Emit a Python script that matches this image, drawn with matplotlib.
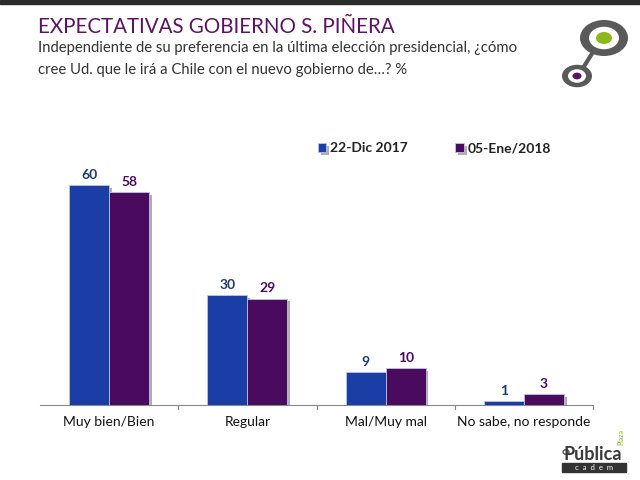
import matplotlib
matplotlib.use("Agg")
import matplotlib.pyplot as plt
import matplotlib.patheffects as pe
from matplotlib.patches import Circle, Rectangle
from matplotlib.lines import Line2D
import numpy as np

categories = ["Muy bien/Bien", "Regular", "Mal/Muy mal", "No sabe, no responde"]
series_names = ["22-Dic 2017", "05-Ene/2018"]
dic2017 = [60, 30, 9, 1]
ene2018 = [58, 29, 10, 3]

bar_colors = ["#1B3DA6", "#4A0B5E"]
label_colors = ["#1F3A6E", "#4A0B5E"]

plt.rcParams['font.family'] = ['Lato', 'DejaVu Sans']

fig = plt.figure(figsize=(6.4, 4.8), dpi=100)
fig.patch.set_facecolor("white")

# top dark band
fig.add_artist(Rectangle((0, 1 - 4/480), 1, 4/480, transform=fig.transFigure,
                         color="#2b2b2b", zorder=0))

fig.text(38/640, 1 - 33/480, "EXPECTATIVAS GOBIERNO S. PIÑERA", fontsize=14.8,
         color="#5A1560", va="baseline", ha="left")
fig.text(38/640, 1 - 52/480,
         "Independiente de su preferencia en la última elección presidencial, ¿cómo",
         fontsize=10.75, color="#333333", va="baseline", ha="left")
fig.text(38/640, 1 - 74/480,
         "cree Ud. que le irá a Chile con el nuevo gobierno de…? %",
         fontsize=10.75, color="#333333", va="baseline", ha="left")

ax = fig.add_axes([40/640, 1 - 405/480, 553/640, 275/480])
x = np.arange(len(categories))
w = 0.29
shadow = [pe.SimplePatchShadow(offset=(2, -2), shadow_rgbFace="#9a9a9a", alpha=0.8), pe.Normal()]
for i, (vals, col, lc) in enumerate(zip([dic2017, ene2018], bar_colors, label_colors)):
    xs = x + (i - 0.5) * w
    bars = ax.bar(xs, vals, width=w, color=col, edgecolor="#b9c6e6", linewidth=0.6,
                  label=series_names[i], zorder=3)
    for b in bars:
        b.set_path_effects(shadow)
    for xx, v in zip(xs, vals):
        ax.text(xx, v + 1.2, str(v), ha="center", va="bottom", fontsize=10,
                fontweight="bold", color=lc)

ax.set_xlim(-0.5, len(categories) - 0.5)
ax.set_ylim(0, 75)
ax.set_yticks([])
for s in ["top", "right", "left"]:
    ax.spines[s].set_visible(False)
ax.spines["bottom"].set_color("#888888")
ax.set_xticks(x)
ax.set_xticklabels(categories, fontsize=10, color="#111111")
ax.tick_params(axis="x", length=0, pad=8)
for b in np.arange(0.5, len(categories), 1.0):
    ax.plot([b, b], [0, -1.2], color="#888888", lw=0.8, clip_on=False)

leg = ax.legend(loc="upper left", bbox_to_anchor=(0.48, 1.0), ncol=2, frameon=False,
                fontsize=10, handlelength=0.6, handleheight=0.6, handletextpad=0.3,
                columnspacing=3.4)
for t in leg.get_texts():
    t.set_fontweight("bold")
    t.set_color("#222222")

# logo top right
def circ(cx, cy, r, **kw):
    fig.add_artist(Circle((cx / 640, 1 - cy / 480), r / 640, transform=fig.transFigure, **kw))

fig.add_artist(Line2D([593/640, 583/640], [1-52/480, 1-68/480], transform=fig.transFigure,
                      color="#5a5a5a", lw=3))
circ(604, 38, 24, facecolor="#5a5a5a", edgecolor="none")
circ(604, 38, 15, facecolor="white", edgecolor="none")
circ(604, 38, 8, facecolor="#8DB81E", edgecolor="none")
circ(577, 76, 15, facecolor="#5a5a5a", edgecolor="none")
circ(577, 76, 9, facecolor="white", edgecolor="none")
circ(577, 76, 4.5, facecolor="#5A1560", edgecolor="none")

# bottom right logo
fig.text(622/640, 1 - 460/480, "Pública", fontsize=13, fontweight="bold", color="#3a3a3a",
         ha="right", va="baseline")
fig.text(624/640, 1 - 444/480, "Plaza", fontsize=5, color="#8DB81E", ha="right",
         va="baseline", rotation=90)
fig.add_artist(Rectangle((562/640, 1 - 472/480), 64/640, 9/480, transform=fig.transFigure,
                         color="#333333"))
fig.text(594/640, 1 - 470/480, "c  a  d  e  m", fontsize=5.5, color="white", ha="center",
         va="baseline")
circ(566, 452, 3, facecolor="none", edgecolor="#555555", lw=1)

fig.savefig("out.png", dpi=100)
